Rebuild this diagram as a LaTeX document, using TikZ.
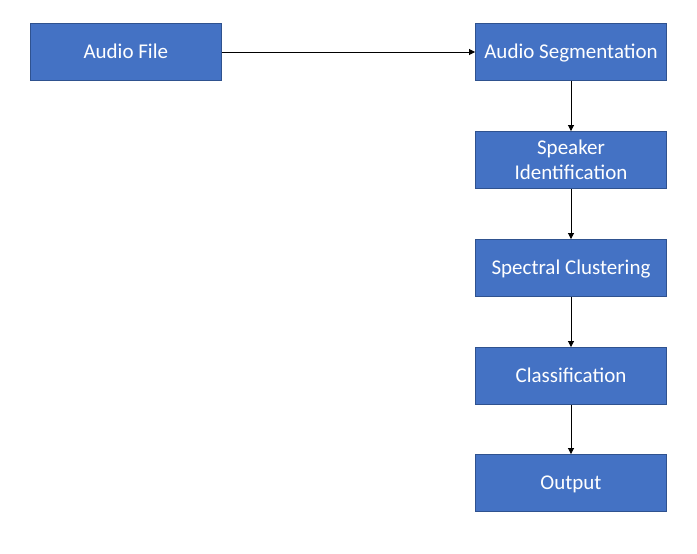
\documentclass[tikz,border=0pt]{standalone}
\usepackage{fontspec}
\setmainfont{Carlito}
\usetikzlibrary{arrows.meta}
\definecolor{boxfill}{HTML}{4472C4}
\definecolor{boxline}{HTML}{2F528F}
\begin{document}
\begin{tikzpicture}[x=1pt,y=-1pt,
  stepbox/.style={draw=boxline,fill=boxfill,line width=0.9pt,minimum width=191pt,minimum height=57pt,
    text=white,font=\fontsize{21}{25}\selectfont,align=center,inner sep=0pt,
    text height=16pt,text depth=2.6pt},
  twoline/.style={text height=,text depth=},
  conn/.style={line width=0.9pt,-{Triangle[length=6pt,width=6pt]}}]
\useasboundingbox (0,0) rectangle (697,554);
\node[stepbox] (af) at (125.8,52) {Audio File};
\node[stepbox] (seg) at (571,52) {Audio Segmentation};
\node[stepbox,twoline] (spk) at (571,160) {Speaker\\Identification};
\node[stepbox] (spc) at (571,268) {Spectral Clustering};
\node[stepbox] (cls) at (571,376) {Classification};
\node[stepbox] (out) at (571,483) {Output};
\draw[conn] (af) -- (seg);
\draw[conn] (seg) -- (spk);
\draw[conn] (spk) -- (spc);
\draw[conn] (spc) -- (cls);
\draw[conn] (cls) -- (out);
\end{tikzpicture}
\end{document}
